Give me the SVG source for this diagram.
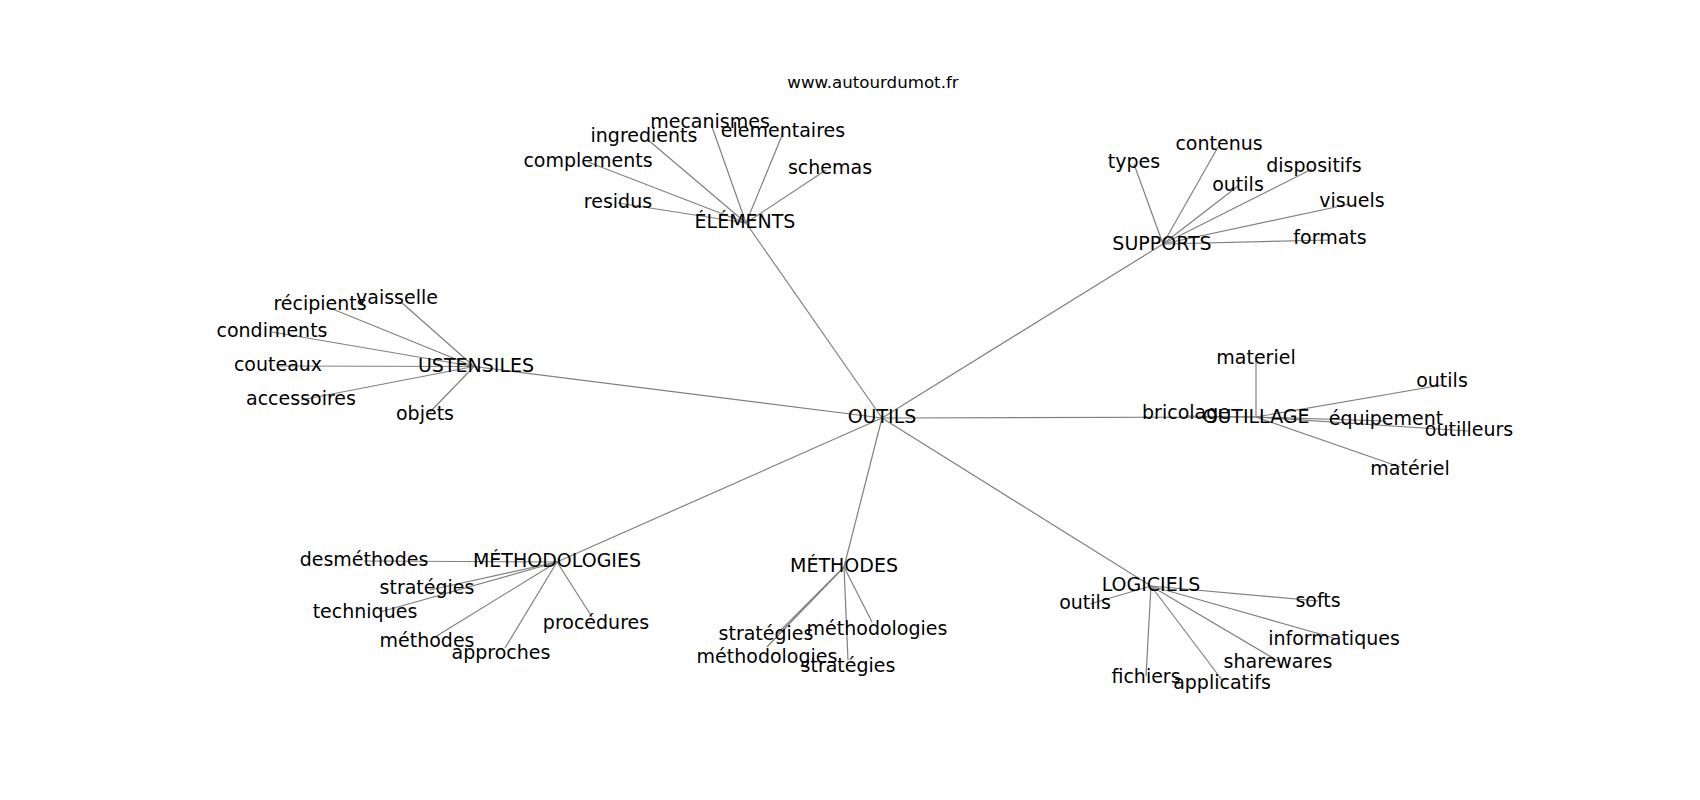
<svg xmlns="http://www.w3.org/2000/svg" width="1700" height="800" viewBox="0 0 1700 800">
<style>
  .e line { stroke: #808080; stroke-width: 1.2; }
  text { font-family: "DejaVu Sans", "Noto Sans", sans-serif; font-size: 19px; fill: #000; text-anchor: middle; }
  .title { font-size: 16.67px; }
</style>
<rect width="1700" height="800" fill="#fff"/>
<g id="connectors" class="e">
  <line x1="882" y1="418" x2="746" y2="223"/>
  <line x1="882" y1="418" x2="1163" y2="244"/>
  <line x1="882" y1="418" x2="474" y2="366.5"/>
  <line x1="882" y1="418" x2="1256" y2="417"/>
  <line x1="882" y1="418" x2="557" y2="562"/>
  <line x1="882" y1="418" x2="844" y2="567"/>
  <line x1="882" y1="418" x2="1151" y2="586"/>
  <line x1="746" y1="223" x2="618" y2="203"/>
  <line x1="746" y1="223" x2="588" y2="162"/>
  <line x1="746" y1="223" x2="647" y2="139"/>
  <line x1="746" y1="223" x2="711" y2="124"/>
  <line x1="746" y1="223" x2="783" y2="133"/>
  <line x1="746" y1="223" x2="826" y2="170"/>
  <line x1="1163" y1="244" x2="1134" y2="164"/>
  <line x1="1163" y1="244" x2="1218" y2="147"/>
  <line x1="1163" y1="244" x2="1238" y2="186"/>
  <line x1="1163" y1="244" x2="1312" y2="169"/>
  <line x1="1163" y1="244" x2="1350" y2="204"/>
  <line x1="1163" y1="244" x2="1330" y2="240"/>
  <line x1="474" y1="366.5" x2="401" y2="302"/>
  <line x1="474" y1="366.5" x2="330" y2="308"/>
  <line x1="474" y1="366.5" x2="272" y2="332"/>
  <line x1="474" y1="366.5" x2="278" y2="366"/>
  <line x1="474" y1="366.5" x2="301" y2="400"/>
  <line x1="474" y1="366.5" x2="430" y2="412"/>
  <line x1="1256" y1="417" x2="1256" y2="360"/>
  <line x1="1256" y1="417" x2="1186" y2="416"/>
  <line x1="1256" y1="417" x2="1442" y2="385"/>
  <line x1="1256" y1="417" x2="1386" y2="421"/>
  <line x1="1256" y1="417" x2="1468" y2="431"/>
  <line x1="1256" y1="417" x2="1400" y2="467"/>
  <line x1="557" y1="562" x2="364" y2="561"/>
  <line x1="557" y1="562" x2="430" y2="590"/>
  <line x1="557" y1="562" x2="380" y2="612"/>
  <line x1="557" y1="562" x2="435" y2="637"/>
  <line x1="557" y1="562" x2="505" y2="648"/>
  <line x1="557" y1="562" x2="592" y2="617"/>
  <line x1="844" y1="567" x2="776" y2="635"/>
  <line x1="844" y1="567" x2="767" y2="647"/>
  <line x1="844" y1="567" x2="872" y2="622"/>
  <line x1="844" y1="567" x2="848" y2="660"/>
  <line x1="1151" y1="586" x2="1090" y2="604"/>
  <line x1="1151" y1="586" x2="1318" y2="601"/>
  <line x1="1151" y1="586" x2="1334" y2="638"/>
  <line x1="1151" y1="586" x2="1278" y2="661"/>
  <line x1="1151" y1="586" x2="1146" y2="676"/>
  <line x1="1151" y1="586" x2="1222" y2="680"/>
</g>
<text class="title" x="873" y="88">www.autourdumot.fr</text>
<g id="n-outils"><text x="882" y="423">OUTILS</text></g>
<g id="n-elements"><text x="745" y="228">ÉLÉMENTS</text></g>
<g id="n-residus"><text x="618" y="208">residus</text></g>
<g id="n-complements"><text x="588" y="167">complements</text></g>
<g id="n-ingredients"><text x="644" y="142">ingredients</text></g>
<g id="n-mecanismes"><text x="710" y="128">mecanismes</text></g>
<g id="n-elementaires"><text x="783" y="137">elementaires</text></g>
<g id="n-schemas"><text x="830" y="174">schemas</text></g>
<g id="n-supports"><text x="1162" y="250">SUPPORTS</text></g>
<g id="n-types"><text x="1134" y="168">types</text></g>
<g id="n-contenus"><text x="1219" y="150">contenus</text></g>
<g id="n-outils-s"><text x="1238" y="191">outils</text></g>
<g id="n-dispositifs"><text x="1314" y="172">dispositifs</text></g>
<g id="n-visuels"><text x="1352" y="207">visuels</text></g>
<g id="n-formats"><text x="1330" y="244">formats</text></g>
<g id="n-ustensiles"><text x="476" y="372">USTENSILES</text></g>
<g id="n-vaisselle"><text x="397" y="304">vaisselle</text></g>
<g id="n-recipients"><text x="320" y="310">récipients</text></g>
<g id="n-condiments"><text x="272" y="337">condiments</text></g>
<g id="n-couteaux"><text x="278" y="371">couteaux</text></g>
<g id="n-accessoires"><text x="301" y="405">accessoires</text></g>
<g id="n-objets"><text x="425" y="420">objets</text></g>
<g id="n-outillage"><text x="1256" y="423">OUTILLAGE</text></g>
<g id="n-materiel"><text x="1256" y="364">materiel</text></g>
<g id="n-bricolage"><text x="1186" y="419">bricolage</text></g>
<g id="n-outils-o"><text x="1442" y="387">outils</text></g>
<g id="n-equipement"><text x="1386" y="425">équipement</text></g>
<g id="n-outilleurs"><text x="1469" y="436">outilleurs</text></g>
<g id="n-materiel2"><text x="1410" y="475">matériel</text></g>
<g id="n-methodologies"><text x="557" y="567">MÉTHODOLOGIES</text></g>
<g id="n-desmethodes"><text x="364" y="566">desméthodes</text></g>
<g id="n-strategies-m"><text x="427" y="594">stratégies</text></g>
<g id="n-techniques"><text x="365" y="618">techniques</text></g>
<g id="n-methodes-m"><text x="427" y="647">méthodes</text></g>
<g id="n-approches"><text x="501" y="659">approches</text></g>
<g id="n-procedures"><text x="596" y="629">procédures</text></g>
<g id="n-methodes"><text x="844" y="572">MÉTHODES</text></g>
<g id="n-strategies-1"><text x="766" y="640">stratégies</text></g>
<g id="n-methodologies-1"><text x="767" y="663">méthodologies</text></g>
<g id="n-methodologies-2"><text x="877" y="635">méthodologies</text></g>
<g id="n-strategies-2"><text x="848" y="672">stratégies</text></g>
<g id="n-logiciels"><text x="1151" y="591">LOGICIELS</text></g>
<g id="n-outils-l"><text x="1085" y="609">outils</text></g>
<g id="n-softs"><text x="1318" y="607">softs</text></g>
<g id="n-informatiques"><text x="1334" y="645">informatiques</text></g>
<g id="n-sharewares"><text x="1278" y="668">sharewares</text></g>
<g id="n-fichiers"><text x="1146" y="683">fichiers</text></g>
<g id="n-applicatifs"><text x="1222" y="689">applicatifs</text></g>
</svg>
